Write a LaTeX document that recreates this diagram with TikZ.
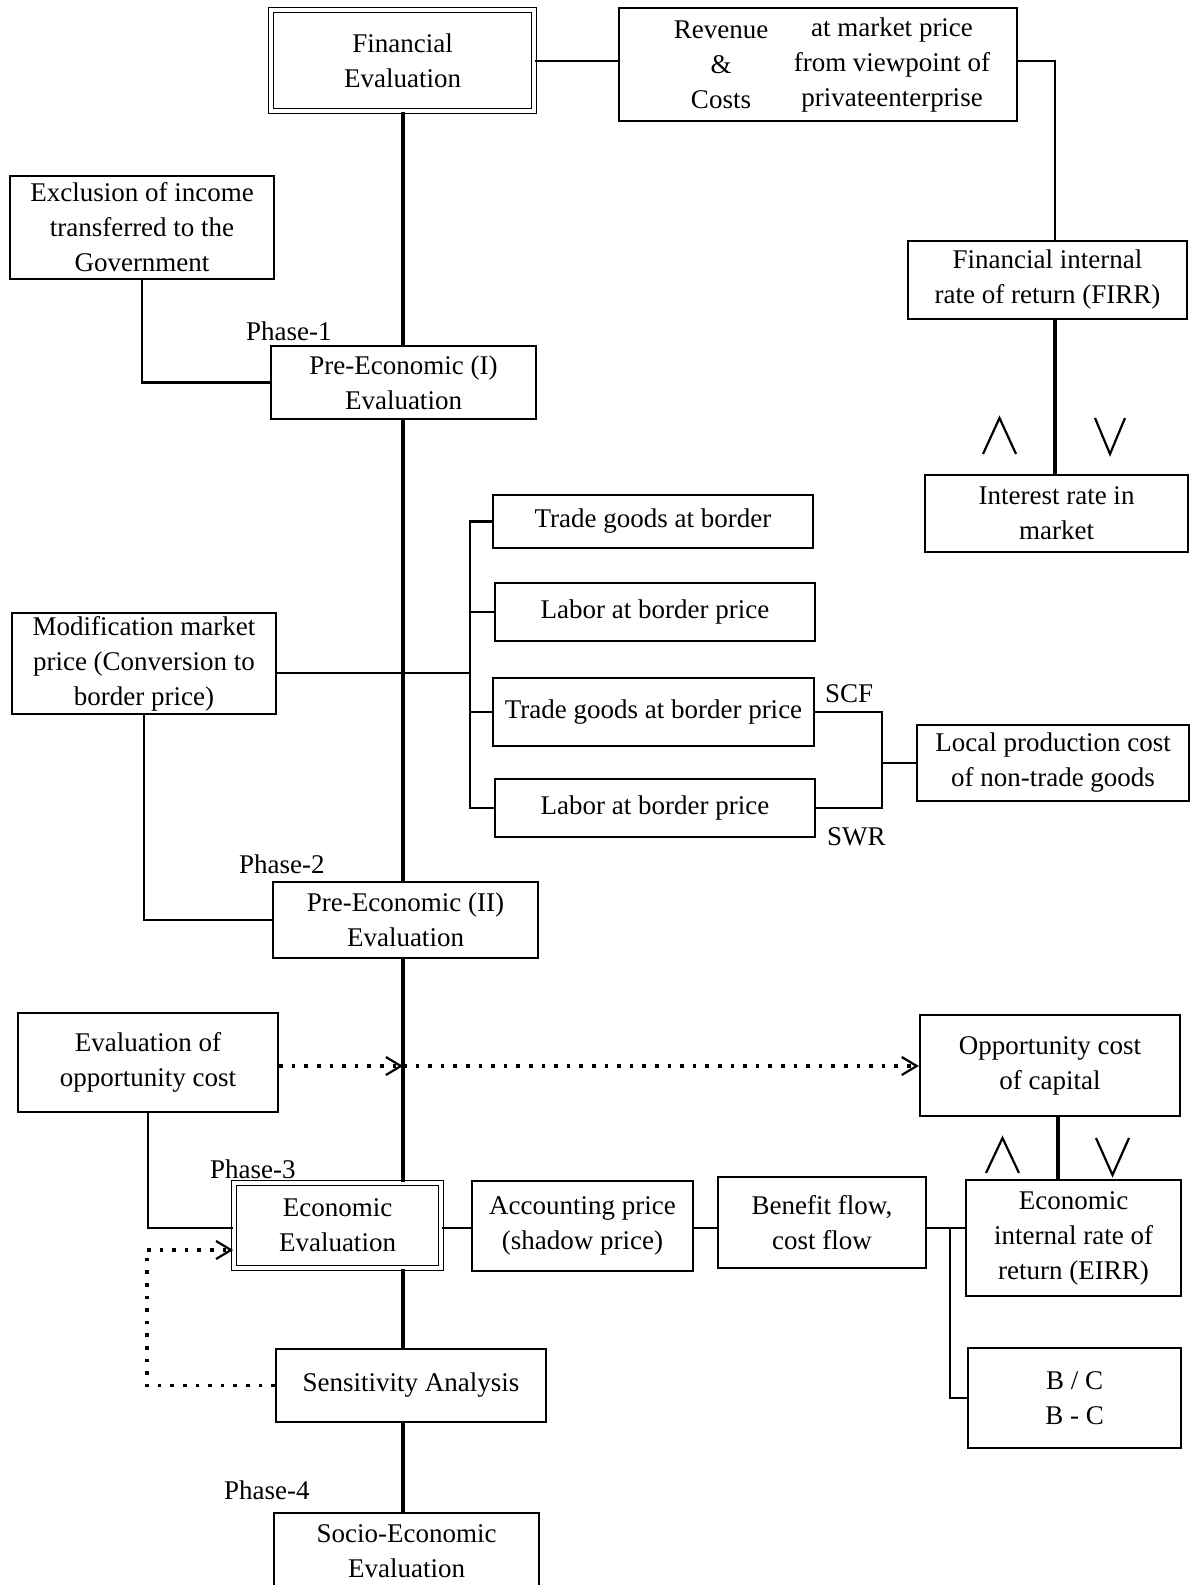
\documentclass[tikz,border=0pt]{standalone}
\usepackage{fontspec}
\setmainfont{Liberation Serif}
\usetikzlibrary{arrows.meta,calc}
\newcommand{\dfont}{\fontsize{27}{35}\selectfont}
\begin{document}
\begin{tikzpicture}[x=1pt,y=-1pt,
  box/.style={draw,line width=2.3pt,align=center,inner sep=0pt,font=\dfont},
  dbox/.style={box,double=white,double distance=3.5pt,line width=1.7pt},
  conn/.style={line width=2.4pt},
  mainln/.style={line width=3.2pt},
  dotln/.style={line width=3.6pt,dash pattern=on 3.6pt off 9pt},
  dotarr/.style={dotln,-{Straight Barb[length=15pt,width=18pt,line width=2.2pt]}},
  lbl/.style={font=\dfont,inner sep=0pt},
  wedge/.style={line width=2.2pt}
]
\useasboundingbox (0,0) rectangle (1192,1585);
\fill[white] (0,0) rectangle (1192,1585);

% coordinates for connector routes
\coordinate (mx) at (403,0);
\coordinate (fx) at (1055,0);
\coordinate (brk) at (470,0);
\coordinate (bus) at (0,673);
\coordinate (sx) at (882,0);
\coordinate (dy) at (0,1066);
\coordinate (ey) at (0,1228);
\coordinate (dl) at (147,1250);
\coordinate (ox) at (1058,0);
\coordinate (bx) at (950,0);

% nodes
\node[dbox,minimum width=263pt,minimum height=101pt] (fin) at (402.5,60.5) {Financial\\Evaluation};
\node[box,minimum width=398pt,minimum height=113pt] (rev) at (818,64.5) {};
\node[lbl,align=center] (revL) at (721,65) {Revenue\\\&\\Costs};
\node[lbl,align=center] (revR) at (892,65) {at market price\\from viewpoint of\\privateenterprise};
\node[box,minimum width=279pt,minimum height=78pt] (firr) at (1047.5,280) {Financial internal\\rate of return (FIRR)};
\node[box,minimum width=263pt,minimum height=77pt] (int) at (1056.5,513.5) {Interest rate in\\market};
\node[box,minimum width=264pt,minimum height=103pt] (excl) at (142,227.5) {Exclusion of income\\transferred to the\\Government};
\node[box,minimum width=265pt,minimum height=73pt] (pre1) at (403.5,382.5) {Pre-Economic (I)\\Evaluation};
\node[box,minimum width=320pt,minimum height=53pt] (tg1) at (653,521.5) {Trade goods at border};
\node[box,minimum width=320pt,minimum height=58pt] (lab1) at (655,612) {Labor at border price};
\node[box,minimum width=321pt,minimum height=68pt] (tg2) at (653.5,712) {Trade goods at border price};
\node[box,minimum width=320pt,minimum height=58pt] (lab2) at (655,808) {Labor at border price};
\node[box,minimum width=264pt,minimum height=101pt] (mod) at (144,663.5) {Modification market\\price (Conversion to\\border price)};
\node[box,minimum width=272pt,minimum height=76pt] (local) at (1053,763) {Local production cost\\of non-trade goods};
\node[box,minimum width=265pt,minimum height=76pt] (pre2) at (405.5,920) {Pre-Economic (II)\\Evaluation};
\node[box,minimum width=260pt,minimum height=99pt] (evop) at (148,1062.5) {Evaluation of\\opportunity cost};
\node[box,minimum width=260pt,minimum height=101pt] (opp) at (1050,1065.5) {Opportunity cost\\of capital};
\node[dbox,minimum width=207pt,minimum height=85pt] (econ) at (337.5,1225.5) {Economic\\Evaluation};
\node[box,minimum width=221pt,minimum height=90pt] (acc) at (582.5,1226) {Accounting price\\(shadow price)};
\node[box,minimum width=208pt,minimum height=91pt] (ben) at (822,1222.5) {Benefit flow,\\cost flow};
\node[box,minimum width=215pt,minimum height=116pt] (eirr) at (1073.5,1238) {Economic\\internal rate of\\return (EIRR)};
\node[box,minimum width=213pt,minimum height=100pt] (bc) at (1074.5,1398) {B / C\\B - C};
\node[box,minimum width=270pt,minimum height=73pt] (sens) at (411,1385.5) {Sensitivity Analysis};
\node[box,minimum width=265pt,minimum height=76pt] (socio) at (406.5,1551) {Socio-Economic\\Evaluation};

% labels
\node[lbl,anchor=base west] (ph1) at (246,340) {Phase-1};
\node[lbl,anchor=base west] (ph2) at (239,873) {Phase-2};
\node[lbl,anchor=base west] (ph3) at (210,1178) {Phase-3};
\node[lbl,anchor=base west] (ph4) at (224,1499) {Phase-4};
\node[lbl,anchor=west] (scf) at (825,694) {SCF};
\node[lbl,anchor=west] (swr) at (827,837) {SWR};

% main spine
\draw[mainln] (fin.south -| mx) -- (pre1.north -| mx);
\draw[mainln] (pre1.south -| mx) -- (pre2.north -| mx);
\draw[mainln] (pre2.south -| mx) -- (econ.north -| mx);
\draw[mainln] (econ.south -| mx) -- (sens.north -| mx);
\draw[mainln] (sens.south -| mx) -- (socio.north -| mx);

% financial branch
\draw[conn] (fin.east |- 0,61) -- (rev.west |- 0,61);
\draw[conn] (rev.east |- 0,61) -| (firr.north -| fx);
\draw[mainln] (firr.south -| fx) -- (int.north -| fx);
\draw[wedge] (983,454) -- (999.5,418) -- (1016,454);
\draw[wedge] (1095,418) -- (1110,454) -- (1125,418);

% phase 1
\draw[conn] (excl.south) |- (pre1.west);

% phase 2
\draw[conn] (mod.east |- bus) -- (bus -| brk);
\draw[conn] (tg1.west) -- (tg1.west -| brk) -- (lab2.west -| brk) -- (lab2.west);
\draw[conn] (lab1.west -| brk) -- (lab1.west);
\draw[conn] (tg2.west -| brk) -- (tg2.west);
\draw[conn] (tg2.east) -| (lab2.east -| sx) -- (lab2.east);
\draw[conn] (local.west) -- (local.west -| sx);
\draw[conn] (mod.south) |- (pre2.west);

% phase 3
\draw[dotarr] (evop.east |- dy) -- (dy -| mx);
\draw[dotarr] (dy -| mx) -- (opp.west |- dy);
\draw[conn] (evop.south) |- (econ.west |- ey);
\draw[dotln] (sens.west) -| (dl);
\draw[dotarr] (dl) -- (dl -| econ.west);
\draw[conn] (econ.east |- ey) -- (acc.west |- ey);
\draw[conn] (acc.east |- ey) -- (ben.west |- ey);
\draw[conn] (ben.east |- ey) -- (eirr.west |- ey);
\draw[conn] (ey -| bx) |- (bc.west);
\draw[mainln] (opp.south -| ox) -- (eirr.north -| ox);
\draw[wedge] (986,1173) -- (1002.5,1138) -- (1019,1173);
\draw[wedge] (1096,1138) -- (1112.5,1175) -- (1129,1138);
\end{tikzpicture}
\end{document}
